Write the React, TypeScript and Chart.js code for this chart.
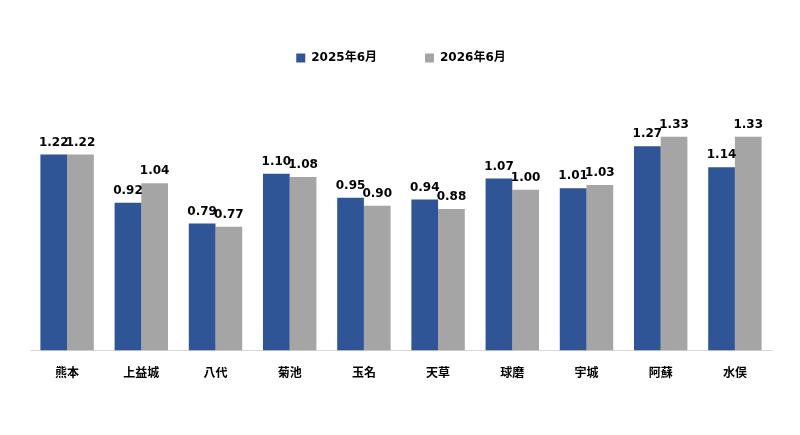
import { useEffect, useRef } from 'react'
import Chart from 'chart.js/auto'

const regions = ['熊本', '上益城', '八代', '菊池', '玉名', '天草', '球磨', '宇城', '阿蘇', '水俣']
const june2025 = [1.22, 0.92, 0.79, 1.10, 0.95, 0.94, 1.07, 1.01, 1.27, 1.14]
const june2026 = [1.22, 1.04, 0.77, 1.08, 0.90, 0.88, 1.00, 1.03, 1.33, 1.33]
const seriesNames = ['2025年6月', '2026年6月']

const FONT = '"DejaVu Sans", "Noto Sans CJK JP", sans-serif'

// draws the value above each bar
const valueLabels = {
  id: 'valueLabels',
  afterDatasetsDraw(chart: Chart) {
    const ctx = chart.ctx
    ctx.save()
    ctx.font = `bold 12px ${FONT}`
    ctx.fillStyle = '#000000'
    ctx.textAlign = 'center'
    ctx.textBaseline = 'bottom'
    chart.data.datasets.forEach((ds, i) => {
      const meta = chart.getDatasetMeta(i)
      meta.data.forEach((bar: any, j) => {
        const v = ds.data[j] as number
        ctx.fillText(v.toFixed(2), bar.x, bar.y - 6)
      })
    })
    ctx.restore()
  },
}

export default function App() {
  const chartRef = useRef<HTMLCanvasElement>(null)

  useEffect(() => {
    document.body.style.margin = '0'
    if (!chartRef.current) return
    const chart = new Chart(chartRef.current, {
      type: 'bar',
      data: {
        labels: regions,
        datasets: [
          { label: seriesNames[0], data: june2025, backgroundColor: '#2F5597' },
          { label: seriesNames[1], data: june2026, backgroundColor: '#A5A5A5' },
        ],
      },
      options: {
        animation: false,
        responsive: false,
        maintainAspectRatio: false,
        datasets: { bar: { categoryPercentage: 0.72, barPercentage: 1 } },
        layout: { padding: { left: 30, right: 28, top: 4, bottom: 46 } },
        plugins: {
          legend: {
            position: 'top',
            labels: {
              boxWidth: 9,
              boxHeight: 9,
              padding: 48,
              color: '#000000',
              font: { family: FONT, size: 12, weight: 'bold' },
            },
          },
          tooltip: { enabled: false },
        },
        scales: {
          x: {
            grid: { display: false },
            border: { display: true, color: '#D9D9D9' },
            ticks: { color: '#000000', padding: 8, font: { family: FONT, size: 12, weight: 'bold' } },
          },
          y: { display: false, min: 0, max: 1.72 },
        },
      },
      plugins: [valueLabels],
    })
    return () => chart.destroy()
  }, [])

  return (
    <div style={{ width: 800, height: 435, background: '#ffffff' }}>
      <canvas ref={chartRef} width={800} height={435}></canvas>
    </div>
  )
}
